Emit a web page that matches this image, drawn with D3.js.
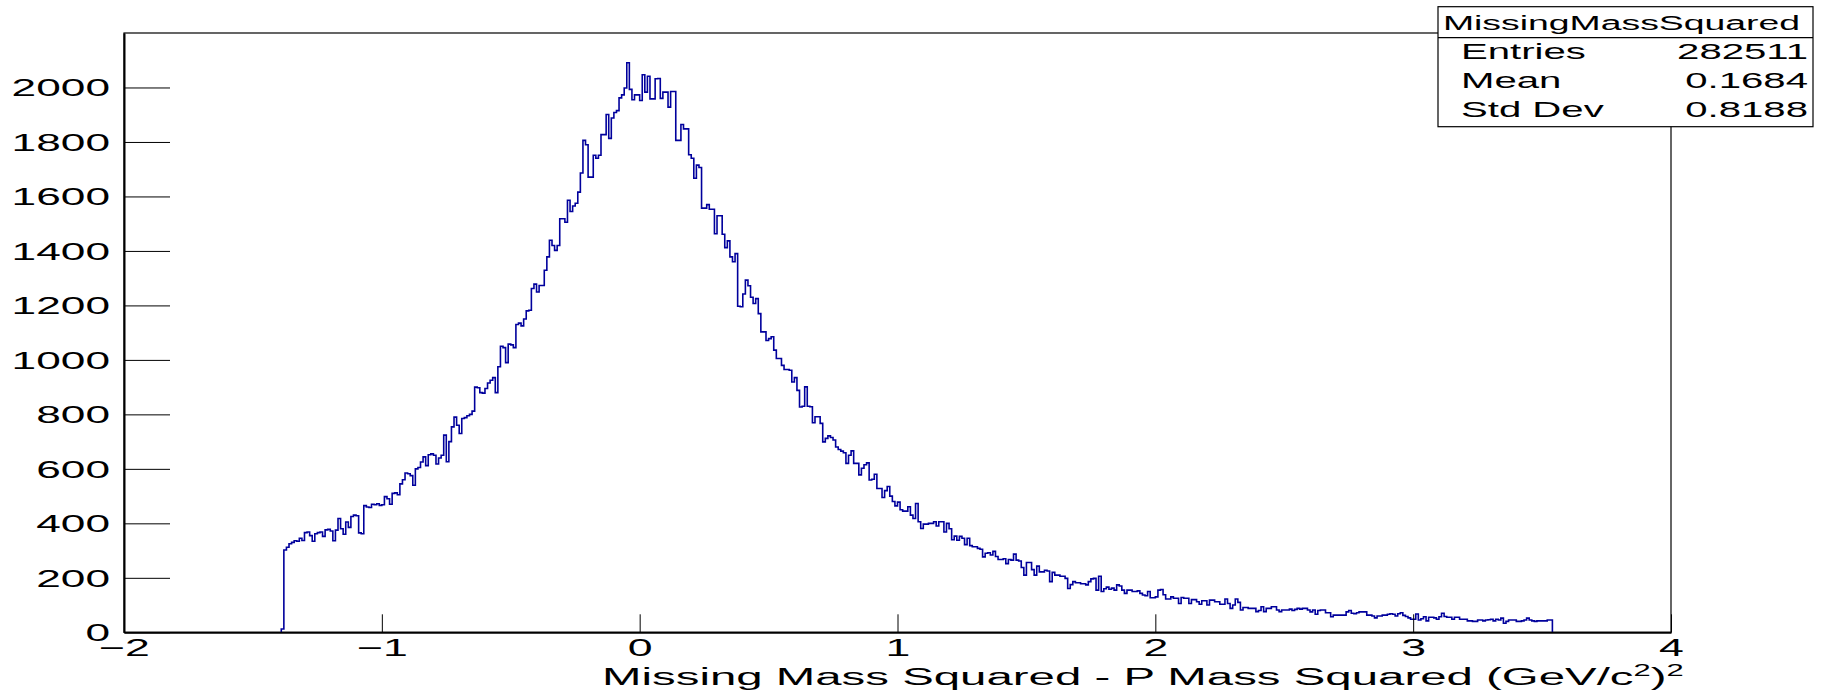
<!DOCTYPE html>
<html><head><meta charset="utf-8">
<script src="https://cdn.jsdelivr.net/npm/d3@7"></script>
<style>
html,body{margin:0;padding:0;background:#fff;}
svg{display:block;font-family:"Liberation Sans",Arial,Helvetica,sans-serif;}
</style></head><body>
<svg id="chart" width="1825" height="691"></svg>
<script>
// ---------------- data ----------------
const histName = "MissingMassSquared";
const statLabels = ["Entries", "Mean", "Std Dev"];
const statValues = ["282511", "0.1684", "0.8188"];
const xTitleMain = "Missing Mass Squared - P Mass Squared (GeV/c";
const xDomain = [-2, 4];
const yDomain = [0, 2200];
const binLow = -1.39;
const binWidth = 0.01;
const counts = [
  12,
  302, 312, 325, 330, 336, 334, 345, 337, 366, 368,
  355, 334, 362, 366, 368, 352, 376, 378, 372, 336,
  375, 418, 380, 360, 405, 385, 425, 430, 428, 365,
  362, 465, 460, 458, 470, 468, 472, 466, 468, 498,
  490, 470, 510, 512, 505, 545, 560, 585, 582, 575,
  540, 600, 605, 625, 644, 612, 652, 655, 650, 618,
  640, 650, 724, 626, 700, 754, 790, 760, 730, 785,
  788, 795, 800, 812, 900, 898, 880, 878, 895, 915,
  925, 935, 880, 975, 1050, 1045, 990, 1058, 1055, 1045,
  1130, 1135, 1125, 1150, 1180, 1182,
  1262, 1278, 1249, 1273, 1273, 1329, 1378, 1439, 1420, 1402,
  1420, 1518, 1518, 1505, 1586, 1545, 1565, 1575, 1616, 1686,
  1806, 1790, 1671, 1671, 1751, 1740, 1751, 1827, 1827, 1901,
  1813, 1888, 1908, 1915, 1962, 1973, 1998, 2091, 1993, 1955,
  1973, 1973, 1952, 2047, 1983, 2041, 1958, 1958, 2032, 2033,
  1960, 1983, 1983, 1928, 1985, 1985, 1806, 1806, 1864, 1848,
  1848, 1753, 1740, 1667, 1715, 1706, 1557, 1557, 1570, 1553,
  1553, 1463, 1529, 1529, 1461, 1412, 1437, 1378, 1360, 1390,
  1197, 1195, 1242, 1293, 1272, 1230, 1207, 1225, 1170, 1103,
  1103, 1071, 1078, 1085, 1036, 1005, 1005,
  980, 965, 965, 962, 919, 935, 888, 827, 830, 901,
  830, 828, 769, 791, 791, 767, 699, 712, 721, 715,
  706, 680, 671, 665, 659, 620, 650, 666, 620, 620,
  578, 602, 615, 622, 559, 562, 580, 528, 528, 495,
  520, 535, 500, 480, 464, 478, 450, 445, 445, 461,
  430, 418, 473, 406, 381, 397, 397, 400, 400, 406,
  390, 406, 406, 368, 400, 380, 340, 353, 338, 352,
  345, 322, 345, 318, 314, 314, 308, 305, 277, 290,
  292, 284, 297, 278, 267, 267, 270, 252, 267, 265,
  287, 265, 262, 238, 210, 256, 256,
  230, 210, 243, 222, 222, 228, 225, 186, 220, 210,
  210, 206, 206, 198, 161, 175, 186, 182, 182, 178,
  178, 174, 186, 196, 198, 155, 206, 150, 160, 166,
  158, 162, 155, 174, 170, 155, 143, 155, 155, 150,
  150, 152, 143, 137, 134, 150, 127, 127, 130, 155,
  157, 138, 122, 122, 130, 125, 125, 106, 128, 125,
  125, 106, 120, 120, 112, 103, 116, 116, 100, 118,
  118, 112, 112, 103, 103, 122, 106, 88, 100, 122,
  110, 82, 91, 91, 88, 88, 88, 76, 80, 94,
  76, 88, 88, 94, 94, 82, 76, 82, 82,
  82, 85, 80, 84, 88, 85, 88, 88, 82, 75, 82,
  66, 80, 82, 82, 72, 72, 57, 63, 63, 63,
  63, 63, 75, 80, 70, 68, 72, 75, 75, 75,
  63, 63, 60, 53, 60, 60, 63, 63, 66, 68,
  66, 60, 68, 72, 62, 58, 53, 48, 48, 67,
  45, 50, 57, 42, 55, 55, 53, 48, 57, 70,
  58, 55, 55, 48, 55, 55, 48, 48, 48, 42,
  42, 40, 40, 45, 45, 42, 45, 46, 48, 42,
  48, 45, 52, 33, 40, 45, 45, 45, 40, 40,
  42, 45, 52, 45, 42, 40, 42, 42, 42, 42, 45, 45
];
const xMajorTicks = [-2, -1, 0, 1, 2, 3, 4];
const xTickLabels = ["\u22122", "\u22121", "0", "1", "2", "3", "4"];
const xMinorTicks = [-1.8, -1.6, -1.4, -1.2, -0.8, -0.6, -0.4, -0.2, 0.2, 0.4, 0.6, 0.8,
  1.2, 1.4, 1.6, 1.8, 2.2, 2.4, 2.6, 2.8, 3.2, 3.4, 3.6, 3.8];
const yMajorTicks = [0, 200, 400, 600, 800, 1000, 1200, 1400, 1600, 1800, 2000];
const yTickLabels = ["0", "200", "400", "600", "800", "1000", "1200", "1400", "1600", "1800", "2000"];
const yMinorTicks = [50, 100, 150, 250, 300, 350, 450, 500, 550, 650, 700, 750, 850, 900, 950,
  1050, 1100, 1150, 1250, 1300, 1350, 1450, 1500, 1550, 1650, 1700, 1750, 1850, 1900, 1950,
  2050, 2100, 2150];

// ---------------- layout ----------------
const W = 1825, H = 691;
const L = 124, R = 1671, T = 33, B = 632.3;
const svg = d3.select("#chart");
const x = d3.scaleLinear().domain(xDomain).range([L, R]);
const y = d3.scaleLinear().domain(yDomain).range([B, T]);

// frame
svg.append("rect").attr("x", L).attr("y", T).attr("width", R - L).attr("height", B - T)
  .attr("fill", "none").attr("stroke", "#000").attr("stroke-width", 1.2);

// histogram
const pts = counts.map((c, i) => [binLow + i * binWidth, c]);
const xEnd = binLow + counts.length * binWidth;
pts.unshift([binLow, 0]);
pts.push([xEnd, counts[counts.length - 1]]);
pts.push([xEnd, 0]);
const line = d3.line().x(d => x(d[0])).y(d => y(d[1])).curve(d3.curveStepAfter);
svg.append("path").datum(pts).attr("d", line)
  .attr("fill", "none").attr("stroke", "#00009c").attr("stroke-width", 1.6);

// y axis
const gy = svg.append("g").attr("transform", `translate(${L},0)`);
gy.call(d3.axisLeft(y).tickValues(yMinorTicks).tickSize(-23).tickSizeOuter(0).tickFormat(""));
gy.call(d3.axisLeft(y).tickValues(yMajorTicks).tickSize(-46).tickSizeOuter(0)
  .tickFormat((d, i) => yTickLabels[i]));
gy.selectAll("line").attr("stroke", "#000").attr("stroke-width", 1);
gy.selectAll(".domain").attr("stroke", "#000").attr("stroke-width", 2);
gy.selectAll("text").attr("x", null).attr("dy", null)
  .attr("transform", "translate(-14,8.3) scale(1.9,1)")
  .attr("text-anchor", "end").attr("font-size", 23.3)
  .attr("font-family", "Liberation Sans, Arial, sans-serif").attr("fill", "#000");

// x axis
const gx = svg.append("g").attr("transform", `translate(0,${B})`);
gx.call(d3.axisBottom(x).tickValues(xMinorTicks).tickSize(-9).tickSizeOuter(0).tickFormat(""));
gx.call(d3.axisBottom(x).tickValues(xMajorTicks).tickSize(-18).tickSizeOuter(0)
  .tickFormat((d, i) => xTickLabels[i]));
gx.selectAll("line").attr("stroke", "#000").attr("stroke-width", 1);
gx.selectAll(".domain").attr("stroke", "#000").attr("stroke-width", 2);
gx.selectAll("text").attr("y", null).attr("dy", null)
  .attr("transform", "translate(0,24) scale(1.9,1)")
  .attr("text-anchor", "middle").attr("font-size", 23.5)
  .attr("font-family", "Liberation Sans, Arial, sans-serif").attr("fill", "#000");

// x title
const title = svg.append("text").attr("font-size", 24.5).attr("text-anchor", "start").attr("fill", "#000");
title.append("tspan").text(xTitleMain);
title.append("tspan").attr("font-size", 16).attr("dy", -9).text("2");
title.append("tspan").attr("dy", 9).text(")");
title.append("tspan").attr("font-size", 16).attr("dy", -9).text("2");
const tNat = title.node().getComputedTextLength();
const tLeft = 602, tRight = 1684;
const tsx = (tRight - tLeft) / tNat;
title.attr("transform", `translate(${tLeft},684.5) scale(${tsx},1)`);

// stats box
const bx0 = 1438, bx1 = 1813, by0 = 6.7, byDiv = 37.7, by1 = 126.7;
const sb = svg.append("g");
sb.append("rect").attr("x", bx0).attr("y", by0).attr("width", bx1 - bx0).attr("height", by1 - by0)
  .attr("fill", "#fff").attr("stroke", "#000").attr("stroke-width", 1.2);
sb.append("line").attr("x1", bx0).attr("x2", bx1).attr("y1", byDiv).attr("y2", byDiv)
  .attr("stroke", "#000").attr("stroke-width", 1.2);
sb.append("text").attr("transform", `translate(${(bx0 + bx1) / 2 - 4},30) scale(1.78,1)`)
  .attr("text-anchor", "middle").attr("font-size", 21).text(histName);
const rowBase = [59.3, 88.3, 116.7];
statLabels.forEach((lab, i) => {
  sb.append("text").attr("transform", `translate(1461,${rowBase[i]}) scale(1.8,1)`)
    .attr("text-anchor", "start").attr("font-size", 22.3).text(lab);
  sb.append("text").attr("transform", `translate(1808,${rowBase[i]}) scale(1.8,1)`)
    .attr("text-anchor", "end").attr("font-size", 22.3).text(statValues[i]);
});
</script>
</body></html>
